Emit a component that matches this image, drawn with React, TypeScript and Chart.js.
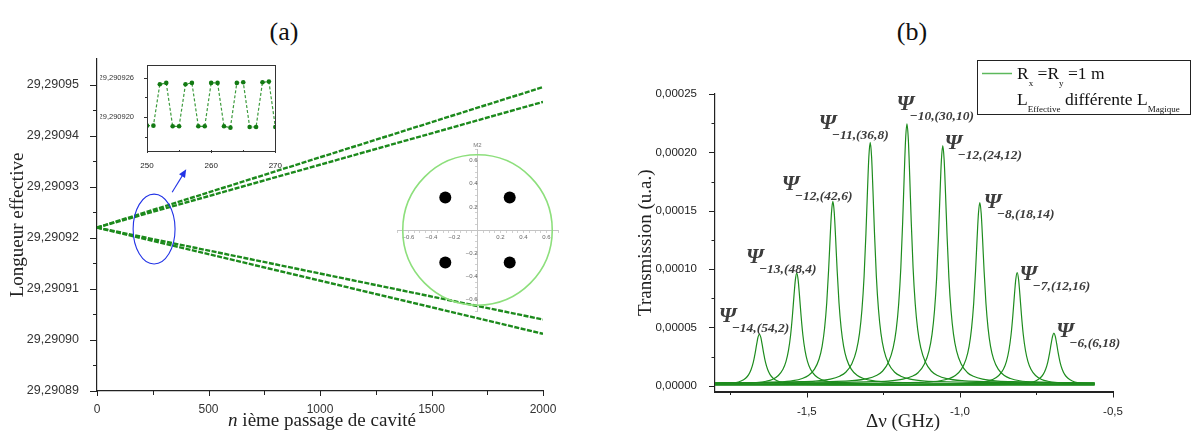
import React, { useEffect, useRef } from 'react';
import { Chart, registerables } from 'chart.js';

Chart.register(...registerables);

// ===== Panel (a): effective length vs. pass number =====
const passIndex = [0, 2000];
const lengthUpperA = [29.290922, 29.2909495];
const lengthUpperB = [29.290922, 29.2909466];
const lengthLowerA = [29.290922, 29.290904];
const lengthLowerB = [29.290922, 29.2909012];
const passTicks = [0, 500, 1000, 1500, 2000];
const passMinorTicks = [250, 750, 1250, 1750];
const lengthTicks = [29.29089, 29.2909, 29.29091, 29.29092, 29.29093, 29.29094, 29.29095];
const lengthMinorTicks = [29.290895, 29.290905, 29.290915, 29.290925, 29.290935, 29.290945];

// zoom inset (passes 250-270)
const zoomPass = [250, 251, 252, 253, 254, 255, 256, 257, 258, 259, 260, 261, 262, 263, 264, 265, 266, 267, 268, 269, 270];
const zoomLength = [
  29.2909187, 29.2909187, 29.290925, 29.2909252, 29.2909186, 29.2909186, 29.290925, 29.2909252,
  29.2909186, 29.2909186, 29.2909252, 29.2909252, 29.2909186, 29.2909184, 29.2909252, 29.2909253,
  29.2909185, 29.2909185, 29.2909253, 29.2909254, 29.2909185,
];
const zoomPassTicks = [250, 260, 270];
const zoomPassMinor = [255, 265];
const zoomLengthTicks = [29.29092, 29.290926];
const zoomLengthMinor = [29.290917, 29.290923];

// spot pattern inset (mirror M2)
const spotX = [-0.28, 0.28, -0.28, 0.28];
const spotY = [0.28, 0.28, -0.28, -0.28];
const mirrorRadius = 0.65;

// ===== Panel (b): transmission vs detuning =====
const modeCenters = [-1.655, -1.533, -1.415, -1.293, -1.173, -1.056, -0.935, -0.813, -0.693];
const modeHeights = [0.0000442, 0.0000965, 0.0001579, 0.0002085, 0.0002245, 0.0002057, 0.000157, 0.000097, 0.000045];
const modeOrders = ['−14', '−13', '−12', '−11', '−10', '−12', '−8', '−7', '−6'];
const modeIndices = ['(54,2)', '(48,4)', '(42,6)', '(36,8)', '(30,10)', '(24,12)', '(18,14)', '(12,16)', '(6,18)'];
const labelX = [-1.788, -1.699, -1.582, -1.461, -1.207, -1.05, -0.922, -0.805, -0.685];
const labelY = [0.0000547, 0.0001053, 0.0001679, 0.0002202, 0.0002365, 0.0002031, 0.0001525, 0.0000907, 0.0000421];
// common line shape read from the peaks (offset from centre in GHz, fraction of peak height)
const lineOffsets = [-1.3, -0.8, -0.5, -0.35, -0.25, -0.18, -0.13, -0.1, -0.08, -0.06, -0.045, -0.035, -0.027, -0.02, -0.014, -0.009, -0.0045, 0,
  0.0045, 0.009, 0.014, 0.02, 0.027, 0.035, 0.045, 0.06, 0.08, 0.1, 0.13, 0.18, 0.25, 0.35, 0.5, 0.8, 1.3];
const lineRel = [0.009, 0.01, 0.012, 0.013, 0.016, 0.019, 0.027, 0.039, 0.055, 0.09, 0.145, 0.215, 0.313, 0.45, 0.625, 0.8, 0.94, 1,
  0.94, 0.8, 0.625, 0.45, 0.313, 0.215, 0.145, 0.09, 0.055, 0.039, 0.027, 0.019, 0.016, 0.013, 0.012, 0.01, 0.009];
const scanEnd = -0.56;
const detuningTicks = [-1.5, -1.0, -0.5];
const detuningMinor = [-1.75, -1.25, -0.75];
const transmissionTicks = [0, 0.00005, 0.0001, 0.00015, 0.0002, 0.00025];
const transmissionMinor = [0.000025, 0.000075, 0.000125, 0.000175, 0.000225];

// annotation anchors (data coordinates)
const ellipseCenter = [256, 29.2909217];
const ellipseRadii = [94, 0.00000685];
const arrowFrom = [337, 29.2909289];
const arrowTo = [400, 29.2909334];

const serif = '"Liberation Serif", "Times New Roman", serif';
const sans = '"Liberation Sans", Arial, sans-serif';

const marksPlugin = {
  id: 'marks',
  afterDraw(chart: any, _a: any, o: any) {
    const { ctx, chartArea: a } = chart;
    const xs = chart.scales.x;
    const ys = chart.scales.y;
    ctx.save();
    ctx.strokeStyle = o.color;
    ctx.lineWidth = o.width;
    const seg = (x1: number, y1: number, x2: number, y2: number) => {
      ctx.beginPath();
      ctx.moveTo(x1, y1);
      ctx.lineTo(x2, y2);
      ctx.stroke();
    };
    const px = (v: number) => Math.round(xs.getPixelForValue(v)) + 0.5;
    const py = (v: number) => Math.round(ys.getPixelForValue(v)) + 0.5;
    (o.xMajor || []).forEach((v: number) => seg(px(v), a.bottom, px(v), a.bottom + o.xLen));
    (o.xMinor || []).forEach((v: number) => seg(px(v), a.bottom, px(v), a.bottom + o.xMinLen));
    (o.yMajor || []).forEach((v: number) => seg(a.left, py(v), a.left - o.yLen, py(v)));
    (o.yMinor || []).forEach((v: number) => seg(a.left, py(v), a.left - o.yMinLen, py(v)));
    if (o.box) {
      ctx.strokeRect(Math.round(a.left) + 0.5, Math.round(a.top) + 0.5, Math.round(a.right - a.left), Math.round(a.bottom - a.top));
    }
    ctx.restore();
  },
};

const whiteAreaPlugin = {
  id: 'whiteArea',
  beforeDraw(chart: any) {
    const { ctx, chartArea: a } = chart;
    ctx.save();
    ctx.fillStyle = '#ffffff';
    ctx.fillRect(a.left, a.top, a.right - a.left, a.bottom - a.top);
    ctx.restore();
  },
};

const ellipsePlugin = {
  id: 'ellipseNote',
  afterDatasetsDraw(chart: any) {
    const { ctx } = chart;
    const xs = chart.scales.x;
    const ys = chart.scales.y;
    const cx = xs.getPixelForValue(ellipseCenter[0]);
    const cy = ys.getPixelForValue(ellipseCenter[1]);
    const rx = xs.getPixelForValue(ellipseCenter[0] + ellipseRadii[0]) - cx;
    const ry = cy - ys.getPixelForValue(ellipseCenter[1] + ellipseRadii[1]);
    ctx.save();
    ctx.strokeStyle = '#2233e6';
    ctx.fillStyle = '#2233e6';
    ctx.lineWidth = 1.1;
    ctx.beginPath();
    ctx.ellipse(cx, cy, rx, ry, 0, 0, Math.PI * 2);
    ctx.stroke();
    const x1 = xs.getPixelForValue(arrowFrom[0]);
    const y1 = ys.getPixelForValue(arrowFrom[1]);
    const x2 = xs.getPixelForValue(arrowTo[0]);
    const y2 = ys.getPixelForValue(arrowTo[1]);
    const ang = Math.atan2(y2 - y1, x2 - x1);
    ctx.beginPath();
    ctx.moveTo(x1, y1);
    ctx.lineTo(x2 - 5 * Math.cos(ang), y2 - 5 * Math.sin(ang));
    ctx.stroke();
    ctx.beginPath();
    ctx.moveTo(x2, y2);
    ctx.lineTo(x2 - 8 * Math.cos(ang) + 3.5 * Math.sin(ang), y2 - 8 * Math.sin(ang) - 3.5 * Math.cos(ang));
    ctx.lineTo(x2 - 8 * Math.cos(ang) - 3.5 * Math.sin(ang), y2 - 8 * Math.sin(ang) + 3.5 * Math.cos(ang));
    ctx.closePath();
    ctx.fill();
    ctx.restore();
  },
};

const passTitlePlugin = {
  id: 'passTitle',
  afterDraw(chart: any) {
    const { ctx } = chart;
    ctx.save();
    ctx.fillStyle = '#222';
    ctx.textBaseline = 'alphabetic';
    const italic = 'italic 19px ' + serif;
    const normal = '19px ' + serif;
    ctx.font = italic;
    const w1 = ctx.measureText('n').width;
    ctx.font = normal;
    const rest = ' ième passage de cavité';
    const w2 = ctx.measureText(rest).width;
    const x0 = 322 - (w1 + w2) / 2;
    ctx.font = italic;
    ctx.fillText('n', x0, 426);
    ctx.font = normal;
    ctx.fillText(rest, x0 + w1, 426);
    ctx.restore();
  },
};

const detuningTitlePlugin = {
  id: 'detuningTitle',
  afterDraw(chart: any) {
    const { ctx } = chart;
    ctx.save();
    ctx.fillStyle = '#222';
    ctx.textAlign = 'center';
    ctx.textBaseline = 'alphabetic';
    ctx.font = '19px ' + serif;
    ctx.fillText('Δν (GHz)', 303, 427);
    ctx.restore();
  },
};

const mirrorPlugin = {
  id: 'mirrorCircle',
  beforeDatasetsDraw(chart: any) {
    const { ctx, chartArea: a } = chart;
    const xs = chart.scales.x;
    const ys = chart.scales.y;
    const cx = xs.getPixelForValue(0);
    const cy = ys.getPixelForValue(0);
    const rx = xs.getPixelForValue(mirrorRadius) - cx;
    const ry = cy - ys.getPixelForValue(mirrorRadius);
    ctx.save();
    ctx.strokeStyle = '#8ddf7c';
    ctx.lineWidth = 1.6;
    ctx.beginPath();
    ctx.ellipse(cx, cy, rx, ry, 0, 0, Math.PI * 2);
    ctx.stroke();
    ctx.fillStyle = '#777';
    ctx.font = '6px ' + sans;
    ctx.textAlign = 'center';
    ctx.textBaseline = 'middle';
    ctx.fillText('M2', cx, a.top - 4);
    ctx.restore();
  },
};

const psiPlugin = {
  id: 'psiLabels',
  afterDatasetsDraw(chart: any) {
    const { ctx } = chart;
    const xs = chart.scales.x;
    const ys = chart.scales.y;
    ctx.save();
    ctx.fillStyle = '#3c3c3c';
    ctx.textAlign = 'left';
    ctx.textBaseline = 'alphabetic';
    modeOrders.forEach((ord, i) => {
      const px = xs.getPixelForValue(labelX[i]);
      const py = ys.getPixelForValue(labelY[i]);
      ctx.font = 'bold italic 22px ' + serif;
      ctx.fillText('Ψ', px, py);
      ctx.font = 'bold italic 13.5px ' + serif;
      ctx.fillText(ord + ',' + modeIndices[i], px + 13, py + 10);
    });
    ctx.restore();
  },
};

const legendPlugin = {
  id: 'richLegend',
  afterDraw(chart: any) {
    const { ctx } = chart;
    ctx.save();
    ctx.strokeStyle = '#222';
    ctx.lineWidth = 1;
    ctx.strokeRect(377.5, 60.5, 213, 54);
    ctx.strokeStyle = '#5cb85c';
    ctx.lineWidth = 1.5;
    ctx.beginPath();
    ctx.moveTo(382, 73.5);
    ctx.lineTo(412, 73.5);
    ctx.stroke();
    ctx.fillStyle = '#111';
    ctx.textBaseline = 'alphabetic';
    const draw = (parts: [string, boolean][], x: number, y: number) => {
      let cx = x;
      parts.forEach(([t, sub]) => {
        ctx.font = sub ? '9px ' + serif : '17.5px ' + serif;
        ctx.fillText(t, cx, sub ? y + 7 : y);
        cx += ctx.measureText(t).width;
      });
    };
    draw([['R', false], ['x', true], [' =R', false], ['y', true], [' =1 m', false]], 417, 79);
    draw([['L', false], ['Effective', true], [' différente L', false], ['Magique', true]], 417, 105);
    ctx.restore();
  },
};

function mainConfig(): any {
  const mk = (vals: number[]) => passIndex.map((n, i) => ({ x: n, y: vals[i] }));
  return {
    type: 'line',
    data: {
      datasets: [lengthUpperA, lengthUpperB, lengthLowerA, lengthLowerB].map((v) => ({
        data: mk(v),
        borderColor: '#1c8a1c',
        borderWidth: 2.4,
        borderDash: [5, 1.5],
        pointRadius: 0,
        fill: false,
      })),
    },
    options: {
      animation: false,
      responsive: false,
      events: [],
      layout: { padding: { left: 0, top: 59, right: 17, bottom: 0 } },
      plugins: {
        legend: { display: false },
        tooltip: { enabled: false },
        marks: { color: '#222', width: 1, xMajor: passTicks, xMinor: passMinorTicks, yMajor: lengthTicks, yMinor: lengthMinorTicks, xLen: 5, xMinLen: 4, yLen: 7, yMinLen: 4 },
      },
      scales: {
        x: {
          type: 'linear',
          min: 0,
          max: 2000,
          afterBuildTicks: (s: any) => { s.ticks = passTicks.map((v) => ({ value: v })); },
          afterFit: (s: any) => { s.height = 41; },
          grid: { display: false },
          border: { display: true, color: '#222', width: 1.2 },
          ticks: { padding: 3, color: '#333', font: { family: sans, size: 12 }, maxRotation: 0, autoSkip: false, callback: (v: any) => String(v) },
        },
        y: {
          type: 'linear',
          min: 29.29089,
          max: 29.290955,
          afterBuildTicks: (s: any) => { s.ticks = lengthTicks.map((v) => ({ value: v })); },
          afterFit: (s: any) => { s.width = 97; },
          grid: { display: false },
          border: { display: true, color: '#222', width: 1.2 },
          title: { display: true, text: 'Longueur effective', color: '#222', font: { family: serif, size: 19 }, padding: { top: 7, bottom: 0 } },
          ticks: { padding: 10, color: '#333', font: { family: sans, size: 12.5 }, autoSkip: false, callback: (v: any) => Number(v).toFixed(5).replace('.', ',') },
        },
      },
    },
    plugins: [marksPlugin, ellipsePlugin, passTitlePlugin],
  };
}

function zoomConfig(): any {
  return {
    type: 'line',
    data: {
      datasets: [{
        data: zoomPass.map((n, i) => ({ x: n, y: zoomLength[i] })),
        borderColor: '#3d9b3d',
        borderWidth: 1.2,
        borderDash: [3, 2],
        pointRadius: 2.3,
        pointBorderWidth: 0,
        pointBackgroundColor: '#137a13',
        fill: false,
      }],
    },
    options: {
      animation: false,
      responsive: false,
      events: [],
      layout: { padding: { left: 0, top: 7, right: 6, bottom: 0 } },
      plugins: {
        legend: { display: false },
        tooltip: { enabled: false },
        marks: { color: '#333', width: 1, box: true, xMajor: zoomPassTicks, xMinor: zoomPassMinor, yMajor: zoomLengthTicks, yMinor: zoomLengthMinor, xLen: 3, xMinLen: 2, yLen: 3, yMinLen: 2 },
      },
      scales: {
        x: {
          type: 'linear',
          min: 250,
          max: 270,
          afterBuildTicks: (s: any) => { s.ticks = zoomPassTicks.map((v) => ({ value: v })); },
          afterFit: (s: any) => { s.height = 25; },
          grid: { display: false },
          border: { display: false },
          ticks: { padding: 3, color: '#222', font: { family: sans, size: 8 }, maxRotation: 0, autoSkip: false, callback: (v: any) => String(v) },
        },
        y: {
          type: 'linear',
          min: 29.290915,
          max: 29.290928,
          afterBuildTicks: (s: any) => { s.ticks = zoomLengthTicks.map((v) => ({ value: v })); },
          afterFit: (s: any) => { s.width = 47; },
          grid: { display: false },
          border: { display: false },
          ticks: { padding: 5, color: '#333', font: { family: sans, size: 7.5 }, autoSkip: false, callback: (v: any) => Number(v).toFixed(6).replace('.', ',') },
        },
      },
    },
    plugins: [whiteAreaPlugin, marksPlugin],
  };
}

function mirrorConfig(): any {
  const fmt = (v: any) => {
    const r = Math.round(Number(v) * 100);
    if (r === 0 || r % 20 !== 0 || Math.abs(r) > 60) return '';
    return (r < 0 ? '−' : '') + (Math.abs(r) / 100).toFixed(1);
  };
  const axis = {
    type: 'linear',
    min: -0.7,
    max: 0.7,
    grid: { display: true, drawOnChartArea: false, drawTicks: true, tickLength: 2, color: '#c4c4c4', lineWidth: 0.8 },
    border: { display: true, color: '#c4c4c4', width: 1 },
    ticks: { stepSize: 0.05, autoSkip: false, maxRotation: 0, padding: 2, color: '#666', font: { family: sans, size: 6 }, callback: fmt },
  };
  return {
    type: 'scatter',
    data: {
      datasets: [{
        data: spotX.map((x, i) => ({ x, y: spotY[i] })),
        pointRadius: 6,
        pointBorderWidth: 0,
        pointBackgroundColor: '#000',
      }],
    },
    options: {
      animation: false,
      responsive: false,
      events: [],
      layout: { padding: { left: 12, top: 14, right: 12, bottom: 9 } },
      plugins: { legend: { display: false }, tooltip: { enabled: false } },
      scales: {
        x: { ...axis, position: { y: 0 }, afterFit: (s: any) => { s.height = 0; } },
        y: { ...axis, position: { x: 0 }, afterFit: (s: any) => { s.width = 0; } },
      },
    },
    plugins: [mirrorPlugin],
  };
}

function transmissionConfig(): any {
  const datasets = modeCenters.map((c, k) => {
    const h = modeHeights[k];
    const pts = lineOffsets.map((o, i) => ({ x: c + o, y: h * lineRel[i] }));
    const inside = pts.filter((p) => p.x <= scanEnd);
    const beyond = pts.find((p) => p.x > scanEnd);
    if (beyond) inside.push({ x: scanEnd, y: beyond.y });
    return {
      data: inside,
      borderColor: '#1e8c1e',
      borderWidth: 1.2,
      pointRadius: 0,
      fill: false,
      cubicInterpolationMode: 'monotone',
    };
  });
  return {
    type: 'line',
    data: { datasets },
    options: {
      animation: false,
      responsive: false,
      events: [],
      layout: { padding: { left: 0, top: 94, right: 80, bottom: 0 } },
      plugins: {
        legend: { display: false },
        tooltip: { enabled: false },
        marks: { color: '#222', width: 1, xMajor: detuningTicks, xMinor: detuningMinor, yMajor: transmissionTicks, yMinor: transmissionMinor, xLen: 6, xMinLen: 3.5, yLen: 6, yMinLen: 3.5 },
      },
      scales: {
        x: {
          type: 'linear',
          min: -1.8,
          max: -0.5,
          afterBuildTicks: (s: any) => { s.ticks = detuningTicks.map((v) => ({ value: v })); },
          afterFit: (s: any) => { s.height = 40.5; },
          grid: { display: false },
          border: { display: true, color: '#222', width: 2 },
          ticks: { padding: 5, color: '#222', font: { family: sans, size: 11.5 }, maxRotation: 0, autoSkip: false, callback: (v: any) => Number(v).toFixed(1).replace('.', ',') },
        },
        y: {
          type: 'linear',
          min: -0.000005,
          max: 0.00025,
          afterBuildTicks: (s: any) => { s.ticks = transmissionTicks.map((v) => ({ value: v })); },
          afterFit: (s: any) => { s.width = 115; },
          grid: { display: false },
          border: { display: true, color: '#222', width: 1.2 },
          title: { display: true, text: 'Transmission (u.a.)', color: '#222', font: { family: serif, size: 19 }, padding: { top: 35, bottom: 0 } },
          ticks: { padding: 10, color: '#222', font: { family: sans, size: 11.5 }, autoSkip: false, callback: (v: any) => Number(v).toFixed(5).replace('.', ',') },
        },
      },
    },
    plugins: [marksPlugin, psiPlugin, legendPlugin, detuningTitlePlugin],
  };
}

function ChartCanvas(props: { left: number; top: number; width: number; height: number; make: () => any }) {
  const ref = useRef<HTMLCanvasElement>(null);
  useEffect(() => {
    const chart = new Chart(ref.current as HTMLCanvasElement, props.make());
    return () => chart.destroy();
  }, []);
  return (
    <canvas
      ref={ref}
      width={props.width}
      height={props.height}
      style={{ position: 'absolute', left: props.left, top: props.top, width: props.width, height: props.height, display: 'block' }}
    />
  );
}

export default function App() {
  const titleStyle: any = { position: 'absolute', top: 32, transform: 'translate(-50%, -50%)', fontFamily: serif, fontSize: 26, color: '#111', lineHeight: 1 };
  return (
    <div style={{ position: 'absolute', left: 0, top: 0, width: 1193, height: 432, background: '#fff', overflow: 'hidden' }}>
      <div style={{ ...titleStyle, left: 284 }}>(a)</div>
      <div style={{ ...titleStyle, left: 912 }}>(b)</div>
      <ChartCanvas left={0} top={0} width={560} height={432} make={mainConfig} />
      <ChartCanvas left={100} top={55} width={185} height={120} make={zoomConfig} />
      <ChartCanvas left={385} top={135} width={185} height={185} make={mirrorConfig} />
      <ChartCanvas left={600} top={0} width={593} height={432} make={transmissionConfig} />
    </div>
  );
}
